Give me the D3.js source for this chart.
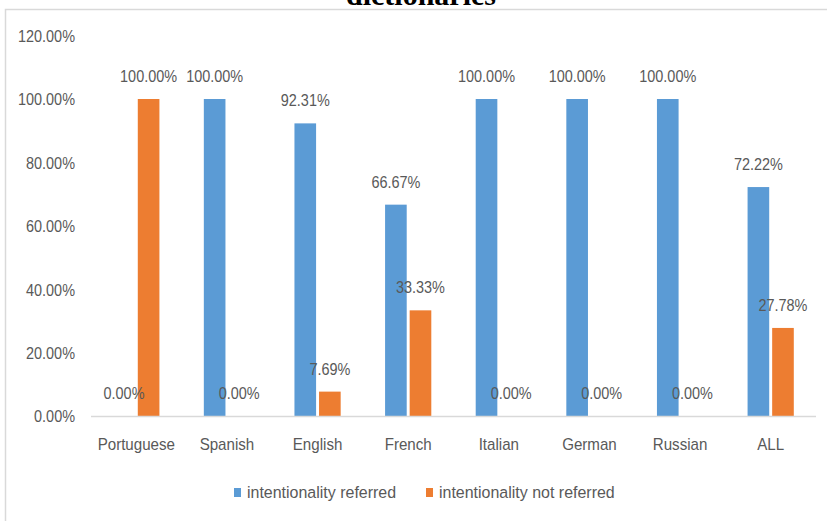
<!DOCTYPE html>
<html><head><meta charset="utf-8">
<script src="https://cdn.jsdelivr.net/npm/d3@7"></script>
<style>
body{margin:0;background:#fff;}
svg{display:block;}
text{font-family:"Liberation Sans",Arial,sans-serif;fill:#595959;}
</style></head>
<body>
<svg id="chart" width="827" height="521"></svg>
<script>
const categories = ["Portuguese","Spanish","English","French","Italian","German","Russian","ALL"];
const seriesNames = ["intentionality referred","intentionality not referred"];
const referred = [0.0, 1.0, 0.9231, 0.6667, 1.0, 1.0, 1.0, 0.7222];
const notReferred = [1.0, 0.0, 0.0769, 0.3333, 0.0, 0.0, 0.0, 0.2778];
const yTicks = [0, 0.2, 0.4, 0.6, 0.8, 1.0, 1.2];
const colors = ["#5B9BD5", "#ED7D31"];
const titleText = "dictionaries";

const svg = d3.select("#chart");
const W = 827, H = 521;
svg.append("rect").attr("width", W).attr("height", H).attr("fill", "#fff");

// condense text horizontally around its anchor x (emulates a narrow UI font)
function condense(sel, sx) {
  sel.each(function() {
    const t = d3.select(this);
    const x = +(t.attr("x") || 0);
    t.attr("transform", `matrix(${sx},0,0,1,${x*(1-sx)},0)`);
  });
}

// border
svg.append("path").attr("d", `M5.5,${H} V9.5 H${W}`).attr("fill","none").attr("stroke","#D9D9D9").attr("stroke-width",1.5);

// title (cut off at top, as in the source)
svg.append("text").attr("x", 421).attr("y", 5).attr("text-anchor","middle")
  .style("font-family",'"Liberation Serif","Times New Roman",serif').style("font-weight","bold")
  .style("font-size","30px").style("fill","#000").text(titleText);

const y = d3.scaleLinear().domain([0, 1.2]).range([416, 35.6]);
const x0 = d3.scaleBand().domain(categories).range([91, 816]).paddingInner(0.49).paddingOuter(0.245);
const x1 = d3.scaleBand().domain(seriesNames).range([0, x0.bandwidth()]).paddingInner(0.12);
const fmt = d3.format(".2%");

// y labels
const yAxis = d3.axisLeft(y).tickValues(yTicks).tickFormat(fmt).tickSize(0).tickPadding(0);
const gy = svg.append("g").attr("transform","translate(75,0)").call(yAxis);
gy.select(".domain").remove();
gy.selectAll("text").style("font-size","17px").style("font-family",null).attr("fill",null).attr("dy","0.35em");
condense(gy.selectAll("text"), 0.85);

const data = categories.map((c,i)=>({cat:c, vals:[referred[i], notReferred[i]]}));

const groups = svg.append("g").selectAll("g").data(data).join("g")
  .attr("transform", d => `translate(${x0(d.cat)},0)`);

groups.selectAll("rect").data(d => d.vals.map((v,j)=>({s:seriesNames[j], v, j})))
  .join("rect")
  .attr("x", d => x1(d.s)).attr("width", x1.bandwidth())
  .attr("y", d => y(d.v)).attr("height", d => y(0) - y(d.v))
  .attr("fill", d => colors[d.j]);

const lbls = groups.selectAll("text.lbl").data(d => d.vals.map((v,j)=>({s:seriesNames[j], v, j})))
  .join("text").attr("class","lbl")
  .attr("x", d => x1(d.s) + x1.bandwidth()/2)
  .attr("y", d => y(d.v) - 23).attr("dy","0.35em")
  .attr("text-anchor","middle").style("font-size","17px")
  .text(d => fmt(d.v));
condense(lbls, 0.85);

// x axis line
svg.append("line").attr("x1",91).attr("x2",816).attr("y1",y(0)+0.5).attr("y2",y(0)+0.5)
  .attr("stroke","#D9D9D9").attr("stroke-width",1.5);

// x labels
const xAxis = d3.axisBottom(x0).tickSize(0).tickPadding(0);
const gx = svg.append("g").attr("transform",`translate(0,444)`).call(xAxis);
gx.select(".domain").remove();
gx.selectAll("text").style("font-size","17px").style("font-family",null).attr("fill",null).attr("dy","0.35em");
condense(gx.selectAll("text"), 0.89);

// legend
const legendX = [234, 426];
const lg = svg.append("g").selectAll("g").data(seriesNames).join("g")
  .attr("transform",(d,i)=>`translate(${legendX[i]},0)`);
lg.append("rect").attr("x",0).attr("y",488).attr("width",7).attr("height",9).attr("fill",(d,i)=>colors[i]);
const lt = lg.append("text").attr("x",13).attr("y",492).attr("dy","0.35em").style("font-size","17px").text(d=>d);
condense(lt, 0.94);
</script>
</body></html>
